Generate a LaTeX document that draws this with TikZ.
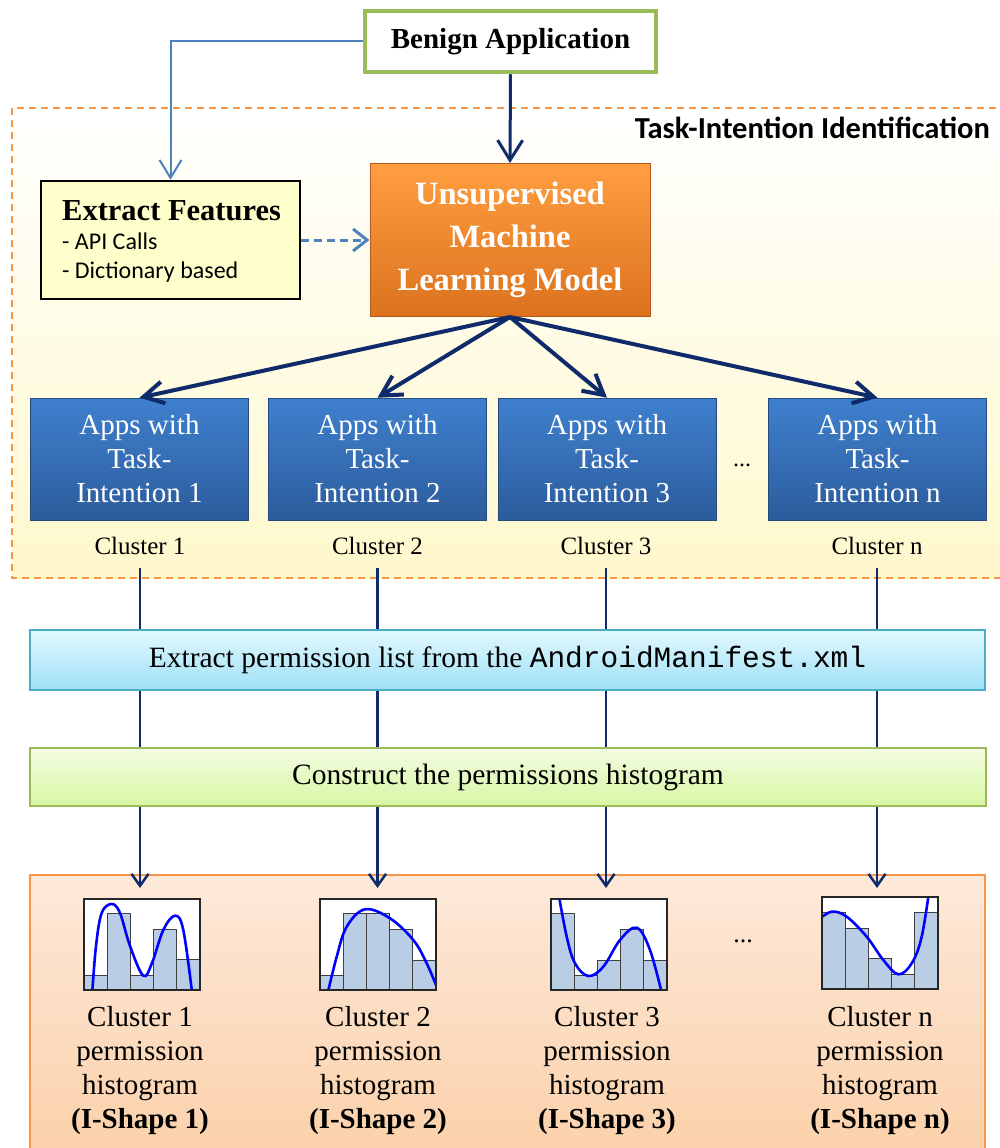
\documentclass[tikz,border=0pt]{standalone}
\usepackage{fontspec}
\setmainfont{Liberation Serif}
\setmonofont{Liberation Mono}
\newfontfamily\calibrifont{Carlito}
\usetikzlibrary{arrows.meta}

\definecolor{navy}{HTML}{0F2B6B}
\definecolor{linkblue}{HTML}{4F81BD}
\definecolor{leafgreen}{HTML}{9BBB59}
\definecolor{accentorange}{HTML}{F79646}
\definecolor{paleyellow}{HTML}{FFFFCC}
\definecolor{areabottom}{HTML}{FFF8CC}
\definecolor{mltop}{HTML}{FF9E40}
\definecolor{mlbottom}{HTML}{DC721E}
\definecolor{mlborder}{HTML}{B45A1C}
\definecolor{apptop}{HTML}{3F80CE}
\definecolor{appbottom}{HTML}{2C5C9C}
\definecolor{cyantop}{HTML}{E2F8FE}
\definecolor{cyanbottom}{HTML}{9EE0F6}
\definecolor{cyanborder}{HTML}{4BACC6}
\definecolor{greentop}{HTML}{F2FBE2}
\definecolor{greenbottom}{HTML}{D8F7A2}
\definecolor{peachtop}{HTML}{FDE9DA}
\definecolor{peachbottom}{HTML}{FBD0A8}
\definecolor{barfill}{HTML}{B9CDE5}
\definecolor{barline}{HTML}{404040}

\tikzset{
  appbox/.style={draw=appbottom!80!black, line width=0.6pt, top color=apptop, bottom color=appbottom,
    minimum width=218pt, minimum height=122pt, inner sep=0pt, align=center, text=white,
    font=\fontsize{29}{34}\selectfont},
  clusterlabel/.style={minimum height=44pt, inner sep=0pt, font=\fontsize{25}{30}\selectfont},
  histlabel/.style={align=center, inner sep=0pt, font=\fontsize{29}{34}\selectfont},
  stagebar/.style={line width=1.8pt, minimum height=58pt, inner sep=0pt, font=\fontsize{29.5}{34}\selectfont},
  fanarrow/.style={draw=navy, line width=4pt, -{Straight Barb[length=20pt,width=22pt]}},
  colline/.style={draw=navy, line width=2.5pt},
  colarrow/.style={draw=navy, line width=2.5pt, -{Straight Barb[length=12pt,width=17pt]}},
  histframe/.style={draw=black!85, line width=1.8pt, minimum width=116pt, minimum height=91pt, inner sep=0pt},
  histbar/.style={fill=barfill, draw=barline, line width=1pt},
  fitcurve/.style={draw=blue, line width=2.6pt, line join=round}
}

\newcommand{\histbars}[3]{% left x, bottom y, list of five bar heights
  \foreach \hb [count=\ib] in {#3} {
    \draw[histbar] ({#1+(\ib-1)*23.2},#2) rectangle ({#1+\ib*23.2},{#2-\hb});
  }
}

\begin{document}
\begin{tikzpicture}[x=1pt,y=-1pt]
\clip (0,0) rectangle (1000,1148);
\fill[white] (0,0) rectangle (1000,1148);

% ---- task-intention identification area ----
\path[top color=white, bottom color=areabottom] (12,108) rectangle (1012,578);
\draw[accentorange, line width=1.6pt, dash pattern=on 7pt off 5pt] (12,108) rectangle (1012,578);
\node[anchor=east, inner sep=0pt, font=\calibrifont\bfseries\fontsize{30.5}{34}\selectfont]
  (tasktitle) at (990,128) {Task-Intention Identification};

% ---- top boxes ----
\node[draw=leafgreen, line width=4.5pt, fill=white, minimum width=291pt, minimum height=61pt,
  inner sep=0pt, font=\bfseries\fontsize{29}{34}\selectfont] (benign) at (510.5,41.5) {Benign Application};

\node[draw=black, line width=2.4pt, fill=paleyellow, minimum width=259pt, minimum height=118pt,
  inner sep=0pt] (features) at (170.5,240) {};
\node[anchor=west, inner sep=0pt, font=\bfseries\fontsize{30.5}{34}\selectfont] (ftitle) at (62,211) {Extract Features};
\node[anchor=west, inner sep=0pt, font=\calibrifont\fontsize{24}{28}\selectfont] (fapi) at (62,241) {- API Calls};
\node[anchor=west, inner sep=0pt, font=\calibrifont\fontsize{24}{28}\selectfont] (fdict) at (62,272) {- Dictionary based};

\node[draw=mlborder, line width=1pt, top color=mltop, bottom color=mlbottom, minimum width=280pt,
  minimum height=153pt, inner sep=0pt, align=center, text=white,
  font=\bfseries\fontsize{32.5}{43}\selectfont] (ml) at (510,240) {Unsupervised\\Machine\\Learning Model};

\draw[linkblue, line width=2pt, -{Straight Barb[length=18pt,width=22pt]}] (benign.west) -| (features.north);
\draw[linkblue, line width=3pt, dash pattern=on 8pt off 5pt, -{Straight Barb[length=14pt,width=22pt]}] (features.east) -- (ml.west);
\draw[draw=navy, line width=3pt, -{Straight Barb[length=20pt,width=25pt]}] (benign.south) -- (ml.north);

% ---- clusters of apps ----
\node[appbox] (app1) at (139.5,459) {Apps with\\Task-\\Intention 1};
\node[appbox] (app2) at (377.5,459) {Apps with\\Task-\\Intention 2};
\node[appbox] (app3) at (607,459) {Apps with\\Task-\\Intention 3};
\node[appbox] (app4) at (877.5,459) {Apps with\\Task-\\Intention n};
\node[inner sep=0pt, font=\fontsize{24}{28}\selectfont] (appdots) at (742,465) {...};

\foreach \k in {1,...,4} { \draw[fanarrow] (ml.south) -- (app\k.north); }

\node[clusterlabel] (cl1) at (140,546) {Cluster 1};
\node[clusterlabel] (cl2) at (377.5,546) {Cluster 2};
\node[clusterlabel] (cl3) at (606,546) {Cluster 3};
\node[clusterlabel] (cl4) at (877,546) {Cluster n};

% ---- processing stages ----
\node[stagebar, draw=cyanborder, top color=cyantop, bottom color=cyanbottom, minimum width=955pt,
  minimum height=60pt] (manifest) at (507.5,660)
  {Extract permission list from the \texttt{AndroidManifest.xml}};
\node[stagebar, draw=leafgreen, top color=greentop, bottom color=greenbottom, minimum width=956pt]
  (construct) at (508,777) {Construct the permissions histogram};

% ---- histogram results ----
\node[draw=accentorange, line width=1.6pt, top color=peachtop, bottom color=peachbottom,
  minimum width=955pt, minimum height=290pt, inner sep=0pt] (results) at (507.5,1020) {};

\coordinate (tip1) at (140,888);
\coordinate (tip2) at (377.5,888);
\coordinate (tip3) at (606,888);
\coordinate (tip4) at (877,888);

\foreach \k in {1,...,4} {
  \draw[colline] (cl\k.south) -- (cl\k.south |- manifest.north);
  \draw[colline] (manifest.south -| cl\k) -- (construct.north -| cl\k);
  \draw[colarrow] (construct.south -| cl\k) -- (tip\k);
}

% histogram 1
\fill[white] (84,899) rectangle (200,990);
\histbars{84}{990}{15,77,15,61,31}
\begin{scope}
  \clip (84,899) rectangle (200,990);
  \draw[fitcurve] plot[smooth, tension=0.6] coordinates {(92,996) (96,946) (101.7,913) (111.7,904) (120,913) (130,946) (143.3,975.7) (152,963) (163.3,930) (175,915.7) (183.3,930) (192.5,996)};
\end{scope}
\node[histframe] (hist1) at (142,944.5) {};

% histogram 2
\fill[white] (320,899) rectangle (436,990);
\histbars{320}{990}{15,77,77,61,30}
\begin{scope}
  \clip (320,899) rectangle (436,990);
  \draw[fitcurve] plot[smooth, tension=0.6] coordinates {(327,996) (336.7,956.7) (346.7,926.7) (365,909.3) (390,918.3) (413.3,940) (426.7,963.3) (438,990)};
\end{scope}
\node[histframe] (hist2) at (378,944.5) {};

% histogram 3
\fill[white] (551,899) rectangle (667,990);
\histbars{551}{990}{77,15,30,61,30}
\begin{scope}
  \clip (551,899) rectangle (667,990);
  \draw[fitcurve] plot[smooth, tension=0.6] coordinates {(557.5,888) (566.7,936.7) (575,963.3) (588.3,976) (603.3,966.7) (620,940) (636.7,927.7) (650,950) (662.5,996)};
\end{scope}
\node[histframe] (hist3) at (609,944.5) {};

% histogram n
\fill[white] (822,897) rectangle (938,989);
\histbars{822}{989}{77,61,31,15,77}
\begin{scope}
  \clip (822,897) rectangle (938,989);
  \draw[fitcurve] plot[smooth, tension=0.6] coordinates {(818,920) (831.7,911.7) (846.7,916.7) (866.7,936.7) (883.3,960) (898.3,974.3) (911.7,963.3) (921.7,936.7) (930,885)};
\end{scope}
\node[histframe, minimum height=92pt] (hist4) at (880,943) {};

\node[inner sep=0pt, font=\fontsize{26}{30}\selectfont] (histdots) at (743,941) {...};

\node[histlabel] (hl1) at (140,1071) {Cluster 1\\permission\\histogram\\\textbf{(I-Shape 1)}};
\node[histlabel] (hl2) at (378,1071) {Cluster 2\\permission\\histogram\\\textbf{(I-Shape 2)}};
\node[histlabel] (hl3) at (607,1071) {Cluster 3\\permission\\histogram\\\textbf{(I-Shape 3)}};
\node[histlabel] (hl4) at (880,1071) {Cluster n\\permission\\histogram\\\textbf{(I-Shape n)}};
\end{tikzpicture}
\end{document}
